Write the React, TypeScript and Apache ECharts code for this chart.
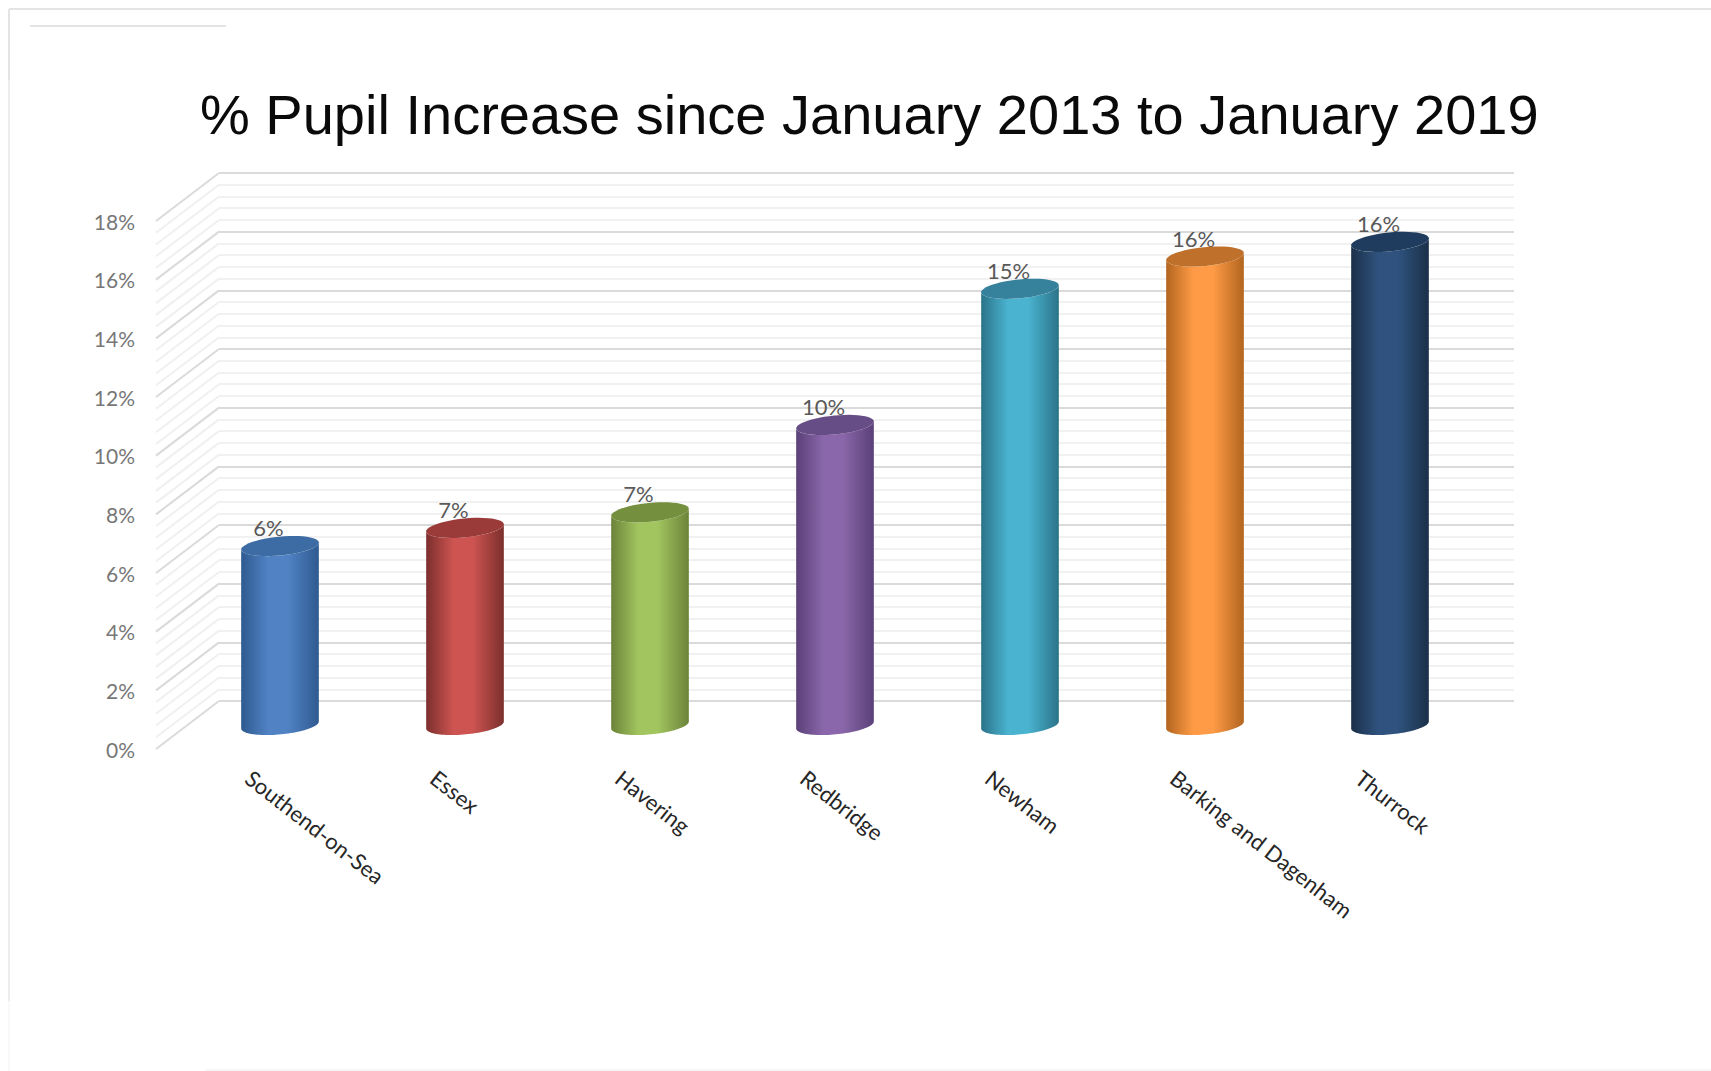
import React, { useEffect, useRef } from "react";
import * as echarts from "echarts";

const titleText = "% Pupil Increase since January 2013 to January 2019";
const categories = ["Southend-on-Sea", "Essex", "Havering", "Redbridge", "Newham", "Barking and Dagenham", "Thurrock"];
const values = [6.1, 6.72, 7.25, 10.23, 14.87, 15.97, 16.47];
const bandMid = ["#5082c4", "#cd5451", "#a2c55f", "#8a67aa", "#4ab4d0", "#ff9b46", "#2f537e"];
const bandEdge = ["#2f5a90", "#7c2f2d", "#6b8339", "#5a4078", "#2b7389", "#b2651f", "#1b3049"];
const bandTop = ["#3c6ca3", "#9a3b39", "#74903f", "#674d86", "#36819b", "#bf712c", "#1f3b5d"];
const wallTicks = [
  0, 0.4, 0.8, 1.2, 1.6, 2, 2.4, 2.8, 3.2, 3.6, 4, 4.4, 4.8, 5.2, 5.6, 6, 6.4, 6.8, 7.2, 7.6, 8, 8.4, 8.8, 9.2, 9.6,
  10, 10.4, 10.8, 11.2, 11.6, 12, 12.4, 12.8, 13.2, 13.6, 14, 14.4, 14.8, 15.2, 15.6, 16, 16.4, 16.8, 17.2, 17.6, 18,
];
const depth = { dx: 63, dy: 48 };
const frameGrey = "#e4e4e4";

function renderSideWall(params: any, api: any) {
  const v = api.value(0);
  const y = api.coord([0, v])[1];
  const x0 = params.coordSys.x;
  const major = Math.abs(v / 2 - Math.round(v / 2)) < 1e-6;
  return {
    type: "line",
    silent: true,
    shape: { x1: x0, y1: y, x2: x0 + depth.dx, y2: y - depth.dy },
    style: { stroke: major ? "#dadada" : "#f0f0f0", lineWidth: 2 },
  };
}

// points of a tilted ellipse between the angles from and to (radians)
function ellipseArc(cx: number, cy: number, from: number, to: number) {
  const a = 39;
  const b = 9.4;
  const rad = (-5.5 * Math.PI) / 180;
  const pts: number[][] = [];
  const n = 48;
  for (let k = 0; k <= n; k++) {
    const t = from + ((to - from) * k) / n;
    const ux = a * Math.cos(t);
    const uy = b * Math.sin(t);
    pts.push([cx + ux * Math.cos(rad) - uy * Math.sin(rad), cy + ux * Math.sin(rad) + uy * Math.cos(rad)]);
  }
  return pts;
}

function renderCylinder(params: any, api: any) {
  const i = params.dataIndex;
  const value = api.value(1);
  const [cx, topY] = api.coord([api.value(0), value]);
  const baseY = api.coord([api.value(0), 0])[1];
  const bottomEdge = ellipseArc(cx, baseY, Math.PI, 0);
  const topEdge = ellipseArc(cx, topY, 0, Math.PI);
  const capEdge = ellipseArc(cx, topY, 0, Math.PI * 2);
  return {
    type: "group",
    children: [
      {
        type: "text",
        style: {
          text: `${Math.round(value)}%`,
          x: cx - 11.5,
          y: topY - 18.5,
          align: "center",
          verticalAlign: "middle",
          fill: "#595959",
          font: "22px Lato",
        },
      },
      {
        type: "polygon",
        shape: { points: [...bottomEdge, ...topEdge] },
        style: {
          fill: {
            type: "linear",
            x: 0,
            y: 0,
            x2: 1,
            y2: 0,
            colorStops: [
              { offset: 0, color: bandEdge[i] },
              { offset: 0.35, color: bandMid[i] },
              { offset: 0.6, color: bandMid[i] },
              { offset: 1, color: bandEdge[i] },
            ],
          },
        },
      },
      {
        type: "polygon",
        shape: { points: capEdge },
        style: { fill: bandTop[i] },
      },
    ],
  };
}

export default function App() {
  const ref = useRef<HTMLDivElement>(null);
  useEffect(() => {
    document.body.style.margin = "0";
    document.body.style.background = "#fff";
    const chart = echarts.init(ref.current!, undefined, { renderer: "svg" });
    const hiddenY = (grid: number) => ({
      type: "value",
      min: 0,
      max: 18,
      interval: 2,
      gridIndex: grid,
      axisLine: { show: false },
      axisTick: { show: false },
      axisLabel: { show: false },
      splitLine: { show: false },
    });
    chart.setOption({
      animation: false,
      backgroundColor: "#ffffff",
      title: {
        text: titleText,
        left: 195,
        top: 81,
        textStyle: { fontFamily: "Liberation Sans", fontSize: 56, fontWeight: "normal", color: "#0a0a0a" },
      },
      grid: [
        { left: 156, width: 1295, top: 221, height: 528 },
        { left: 219, width: 1295, top: 173, height: 528 },
        { left: 187.5, width: 1295, top: 197, height: 528 },
      ],
      xAxis: [
        {
          type: "category",
          gridIndex: 0,
          data: categories,
          axisLine: { show: false },
          axisTick: { show: false },
          axisLabel: {
            interval: 0,
            rotate: -38,
            margin: 26,
            color: "#262626",
            fontFamily: "Lato",
            fontSize: 22,
          },
        },
        { type: "category", gridIndex: 1, data: categories, show: false },
        { type: "category", gridIndex: 2, data: categories, show: false },
      ],
      yAxis: [
        {
          type: "value",
          gridIndex: 0,
          min: 0,
          max: 18,
          interval: 2,
          axisLine: { show: false },
          axisTick: { show: false },
          splitLine: { show: false },
          axisLabel: {
            formatter: "{value}%",
            color: "#777777",
            fontFamily: "Lato",
            fontSize: 21,
            margin: 21,
          },
        },
        {
          ...hiddenY(1),
          splitLine: { show: true, lineStyle: { color: "#dadada", width: 2 } },
          minorTick: { show: false, splitNumber: 5 },
          minorSplitLine: { show: true, lineStyle: { color: "#f1f1f1", width: 2 } },
        },
        hiddenY(2),
      ],
      series: [
        {
          type: "custom",
          coordinateSystem: "cartesian2d",
          xAxisIndex: 0,
          yAxisIndex: 0,
          silent: true,
          encode: { y: 0 },
          data: wallTicks.map((t) => [t]),
          renderItem: renderSideWall,
          z: 1,
        },
        {
          type: "custom",
          coordinateSystem: "cartesian2d",
          xAxisIndex: 2,
          yAxisIndex: 2,
          silent: true,
          encode: { x: 0, y: 1 },
          data: categories.map((_, i) => [i, values[i]]),
          renderItem: renderCylinder,
          z: 5,
          clip: false,
        },
      ],
      graphic: [
        { type: "line", shape: { x1: 9, y1: 9, x2: 1711, y2: 9 }, style: { stroke: frameGrey, lineWidth: 2 } },
        { type: "line", shape: { x1: 9, y1: 9, x2: 9, y2: 80 }, style: { stroke: frameGrey, lineWidth: 2 } },
        { type: "line", shape: { x1: 9, y1: 80, x2: 9, y2: 1001 }, style: { stroke: "#ededed", lineWidth: 2 } },
        { type: "line", shape: { x1: 9, y1: 1001, x2: 9, y2: 1071 }, style: { stroke: "#f3f3f3", lineWidth: 1 } },
        { type: "line", shape: { x1: 30, y1: 26, x2: 226, y2: 26 }, style: { stroke: frameGrey, lineWidth: 2 } },
        { type: "line", shape: { x1: 205, y1: 1070, x2: 1711, y2: 1070 }, style: { stroke: "#f6f6f6", lineWidth: 2 } },
      ],
    });
    return () => chart.dispose();
  }, []);
  return <div ref={ref} style={{ position: "absolute", left: 0, top: 0, width: 1711, height: 1071 }} />;
}
